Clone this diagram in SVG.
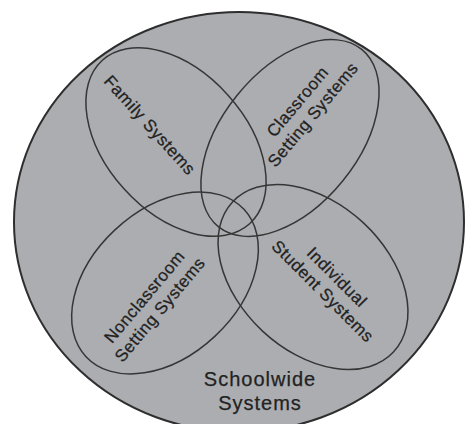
<svg xmlns="http://www.w3.org/2000/svg" width="465" height="424" viewBox="0 0 465 424">
<style>
.lbl{font-family:"Liberation Sans",Arial,sans-serif;font-size:17px;letter-spacing:0.5px;fill:#222222;stroke:#222222;stroke-width:0.25;text-anchor:middle}
.big{font-size:20px;letter-spacing:1px}
.sub{fill:none;stroke:#363636;stroke-width:1.5}
</style>
<rect width="465" height="424" fill="#ffffff"/>
<g id="schoolwide">
<ellipse cx="239" cy="222" rx="225" ry="210" fill="#abadb1" stroke="#2e2e2e" stroke-width="2"/>
<text class="lbl big" x="260" y="386">Schoolwide</text>
<text class="lbl big" x="260" y="410">Systems</text>
</g>
<g id="family">
<ellipse class="sub" cx="176" cy="142" rx="110" ry="70" transform="rotate(48 176 142)"/>
<text class="lbl" transform="translate(150,125) rotate(48)" x="0" y="6">Family Systems</text>
</g>
<g id="classroom">
<ellipse class="sub" cx="290" cy="138" rx="114" ry="68" transform="rotate(-51 290 138)"/>
<g transform="translate(305,108) rotate(-50)">
<text class="lbl" x="0" y="-4">Classroom</text>
<text class="lbl" x="0" y="16">Setting Systems</text>
</g>
</g>
<g id="nonclassroom">
<ellipse class="sub" cx="165" cy="283" rx="108" ry="73" transform="rotate(-43 165 283)"/>
<g transform="translate(152,303) rotate(-50)">
<text class="lbl" x="0" y="-4">Nonclassroom</text>
<text class="lbl" x="0" y="16">Setting Systems</text>
</g>
</g>
<g id="individual">
<ellipse class="sub" cx="313" cy="277" rx="110" ry="74" transform="rotate(43 313 277)"/>
<g transform="translate(330,284) rotate(45)">
<text class="lbl" x="0" y="-4">Individual</text>
<text class="lbl" x="0" y="16">Student Systems</text>
</g>
</g>
<g id="connectors"/>
</svg>
